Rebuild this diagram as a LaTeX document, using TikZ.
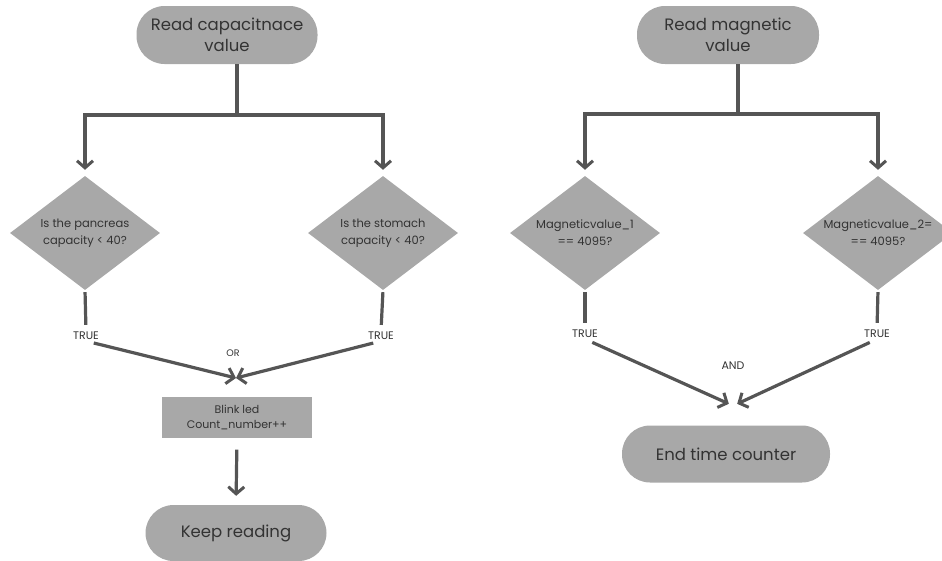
\documentclass[tikz,border=0pt]{standalone}
\usepackage{fontspec}
\setmainfont{Poppins}
\usetikzlibrary{shapes.geometric,arrows.meta}
\definecolor{boxgray}{HTML}{A8A8A8}
\definecolor{linegray}{HTML}{555555}
\definecolor{txtgray}{HTML}{333333}
\begin{document}
\begin{tikzpicture}[x=1pt,y=1pt,
  pill/.style={fill=boxgray, rounded corners=28pt, minimum height=58pt, text=txtgray, font=\fontsize{16.5}{21}\selectfont, align=center, inner sep=0pt},
  dia/.style={shape=diamond, fill=boxgray, minimum width=150pt, minimum height=114pt, inner sep=0pt},
  diatext/.style={text=txtgray, font=\fontsize{11.5}{17}\selectfont, align=center, inner sep=0pt},
  rect/.style={fill=boxgray, minimum width=150pt, minimum height=41pt, inner sep=0pt, text=txtgray, font=\fontsize{11}{15}\selectfont, align=center},
  lbl/.style={text=txtgray, font=\fontsize{11}{12}\selectfont, inner sep=1pt},
  conn/.style={draw=linegray, line width=3.2pt},
  arr/.style={conn, -{Straight Barb[length=7pt,width=16pt,line width=3pt]}}
]
\useasboundingbox (0,0) rectangle (942,-560);

% ---------- Left flow ----------
\node[pill, minimum width=181pt] (s1) at (227,-35) {Read capacitnace\\value};
\coordinate (j1) at (237,-115);
\node[dia, label={[diatext]center:Is the pancreas\\capacity < 40?}] (d1) at (85,-233) {};
\node[dia, label={[diatext]center:Is the stomach\\capacity < 40?}] (d2) at (383,-233) {};
\node[lbl] (t1) at (86,-336) {TRUE};
\node[lbl] (t2) at (381,-336) {TRUE};
\node[lbl, font=\fontsize{9.5}{10}\selectfont] (or) at (233,-353) {OR};
\coordinate (m1) at (236,-378);
\node[rect] (b1) at (237,-417) {Blink led\\Count\_number++};
\node[pill, minimum width=181pt, minimum height=56pt] (k1) at (236,-533) {Keep reading};

\draw[conn] (s1.south -| j1) -- (j1);
\draw[arr, shorten >=6pt] (j1) -| (d1.north);
\draw[arr, shorten >=6pt] (j1) -| (d2.north);
\draw[conn, shorten <=2pt, shorten >=6pt] (d1.south) -- (t1.north);
\draw[conn, shorten <=2pt, shorten >=6pt] (d2.south) -- (t2.north);
\draw[arr, shorten <=8pt] (t1.south) -- (m1);
\draw[arr, shorten <=8pt] (t2.south) -- (m1);
\draw[arr, shorten <=12pt, shorten >=9pt] (b1.south) -- (k1.north);

% ---------- Right flow ----------
\node[pill, minimum width=182pt] (s2) at (728,-35) {Read magnetic\\value};
\coordinate (j2) at (738,-114);
\node[dia, label={[diatext]center:Magneticvalue\_1\\== 4095?}] (d3) at (585,-233) {};
\node[dia, label={[diatext]center:Magneticvalue\_2=\\== 4095?}] (d4) at (878,-233) {};
\node[lbl] (t3) at (585,-334) {TRUE};
\node[lbl] (t4) at (877,-334) {TRUE};
\node[lbl] (and) at (733,-366) {AND};
\coordinate (m2) at (733,-403);
\node[pill, minimum width=208pt, minimum height=57pt] (e1) at (726,-454) {End time counter};

\draw[conn] (s2.south -| j2) -- (j2);
\draw[arr, shorten >=6pt] (j2) -| (d3.north);
\draw[arr, shorten >=6pt] (j2) -| (d4.north);
\draw[conn, shorten <=2pt, shorten >=6pt] (d3.south) -- (t3.north);
\draw[conn, shorten <=2pt, shorten >=6pt] (d4.south) -- (t4.north);
\draw[arr, shorten <=8pt, shorten >=-2pt] (t3.south) -- ([xshift=-6pt]m2);
\draw[arr, shorten <=8pt, shorten >=-2pt] (t4.south) -- ([xshift=6pt]m2);
\end{tikzpicture}
\end{document}
